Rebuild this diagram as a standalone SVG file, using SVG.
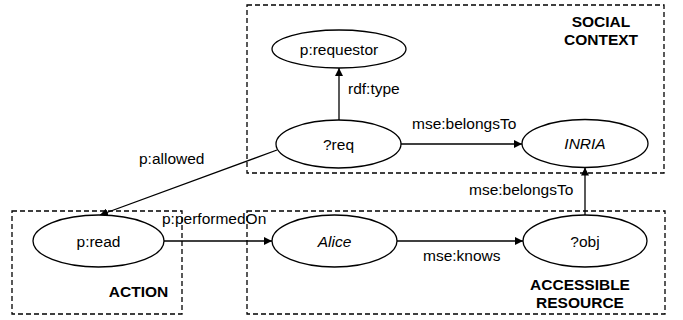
<svg xmlns="http://www.w3.org/2000/svg" width="683" height="320" viewBox="0 0 683 320">
<style>
.box{fill:none;stroke:#000;stroke-width:1.3;stroke-dasharray:5,3}
.node{fill:#fff;stroke:#000;stroke-width:1.3}
.edge{fill:none;stroke:#000;stroke-width:1.3;marker-end:url(#ah)}
text{font-family:"Liberation Sans",Arial,sans-serif;font-size:15.5px;fill:#000}
.c{text-anchor:middle}
.i{font-style:italic}
.b{font-weight:bold;text-anchor:middle}
</style>
<defs>
<marker id="ah" viewBox="0 0 10 10" refX="10" refY="5" markerWidth="8" markerHeight="8" markerUnits="userSpaceOnUse" orient="auto">
<path d="M0,0 L10,5 L0,10 z" fill="#000"/>
</marker>
</defs>
<rect x="0" y="0" width="683" height="320" fill="#fff"/>
<g id="social-context">
<rect class="box" x="247" y="5" width="417" height="168"/>
<text class="b" x="601" y="27">SOCIAL</text>
<text class="b" x="601" y="44.5">CONTEXT</text>
</g>
<g id="action">
<rect class="box" x="12" y="211" width="170" height="103"/>
<text class="b" x="138.5" y="297">ACTION</text>
</g>
<g id="accessible-resource">
<rect class="box" x="247" y="211" width="418" height="103"/>
<text class="b" x="580" y="290">ACCESSIBLE</text>
<text class="b" x="580" y="308">RESOURCE</text>
</g>
<g id="connectors">
<line class="edge" x1="339" y1="120" x2="339" y2="68"/>
<line class="edge" x1="401" y1="144" x2="522" y2="144"/>
<line class="edge" x1="277" y1="150" x2="100" y2="215"/>
<line class="edge" x1="164" y1="241" x2="272" y2="241"/>
<line class="edge" x1="397" y1="241" x2="523" y2="241"/>
<line class="edge" x1="585" y1="215" x2="585" y2="167.5"/>
<text x="348" y="94">rdf:type</text>
<text x="412" y="129">mse:belongsTo</text>
<text x="139" y="163.5">p:allowed</text>
<text x="162" y="224">p:performedOn</text>
<text x="423" y="260.5">mse:knows</text>
<text x="469" y="194.5">mse:belongsTo</text>
</g>
<g id="p-requestor">
<ellipse class="node" cx="339" cy="49" rx="67" ry="19"/>
<text class="c" x="339" y="54.5">p:requestor</text>
</g>
<g id="req">
<ellipse class="node" cx="338.5" cy="144" rx="62.5" ry="24"/>
<text class="c" x="338.5" y="149.5">?req</text>
</g>
<g id="inria">
<ellipse class="node" cx="585" cy="143.5" rx="63" ry="24"/>
<text class="c i" x="585" y="149">INRIA</text>
</g>
<g id="p-read">
<ellipse class="node" cx="98.5" cy="241" rx="65.5" ry="26"/>
<text class="c" x="98.5" y="246.5">p:read</text>
</g>
<g id="alice">
<ellipse class="node" cx="334.5" cy="241" rx="62.5" ry="26"/>
<text class="c i" x="334.5" y="246.5">Alice</text>
</g>
<g id="obj">
<ellipse class="node" cx="585" cy="241" rx="62" ry="26"/>
<text class="c" x="585" y="246.5">?obj</text>
</g>
</svg>
